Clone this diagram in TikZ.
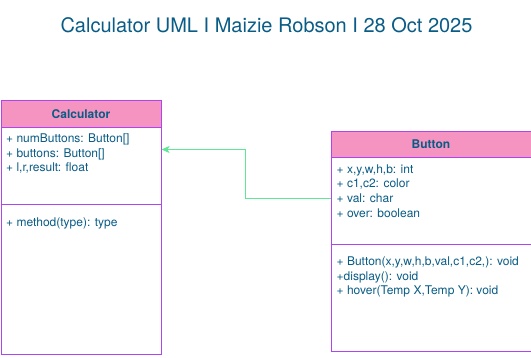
\documentclass[tikz,border=0pt]{standalone}
\usepackage{fontspec}
\setmainfont{TeX Gyre Heros}
\usetikzlibrary{arrows.meta}
\definecolor{umlpink}{HTML}{F694C1}
\definecolor{umlpurple}{HTML}{AF45ED}
\definecolor{umlblue}{HTML}{095C86}
\definecolor{umlgreen}{HTML}{60E696}
\tikzset{
  classbox/.style={draw=umlpurple,line width=1pt,fill=white,inner sep=0pt,anchor=north west},
  classhead/.style={classbox,fill=umlpink,minimum height=26.5pt,text=umlblue,font=\fontsize{12}{14}\selectfont\bfseries},
  members/.style={anchor=base west,inner sep=0pt,text=umlblue,font=\fontsize{12}{14.6}\selectfont},
  divider/.style={draw=umlpurple,line width=1pt},
  link/.style={draw=umlgreen,line width=1pt,-{Stealth[length=8pt,width=7pt,inset=2pt]}}
}
\begin{document}
\begin{tikzpicture}[x=1pt,y=-1pt]
\useasboundingbox (0,0) rectangle (531,357);
% title
\node[anchor=base,inner sep=0pt,text=umlblue,font=\fontsize{20}{24}\selectfont] (title) at (266.5,32.3)
  {Calculator UML I Maizie Robson I 28 Oct 2025};
% class Calculator
\node[classbox,minimum width=160pt,minimum height=254pt] (calc) at (0.5,100) {};
\node[classhead,minimum width=160pt] (calchead) at (calc.north west) {Calculator};
\draw[divider] (calc.west |- 0,204) -- (calc.east |- 0,204);
\foreach \t [count=\i] in {{+ numButtons: Button[]},{+ buttons: Button[]},{+ l,r,result: float}}
  \node[members] (calcattr\i) at (6,142.5+14.6*\i-14.6) {\t};
\node[members] (calcop1) at (6,226.3) {+ method(type): type};
% class Button
\node[classbox,minimum width=200pt,minimum height=220pt] (btn) at (330.5,130.5) {};
\node[classhead,minimum width=200pt] (btnhead) at (btn.north west) {Button};
\draw[divider] (btn.west |- 0,244) -- (btn.east |- 0,244);
\foreach \t [count=\i] in {{+ x,y,w,h,b: int},{+ c1,c2: color},{+ val: char},{+ over: boolean}}
  \node[members] (btnattr\i) at (336.5,173.3+14.6*\i-14.6) {\t};
\foreach \t [count=\i] in {{+ Button(x,y,w,h,b,val,c1,c2,): void},{+display(): void},{+ hover(Temp X,Temp Y): void}}
  \node[members] (btnop\i) at (336.5,265.5+14.6*\i-14.6) {\t};
% association
\coordinate (bend) at (245.5,149.5);
\draw[link] (btn.west |- 0,198) -| (bend) -- (calc.east |- bend);
\end{tikzpicture}
\end{document}
